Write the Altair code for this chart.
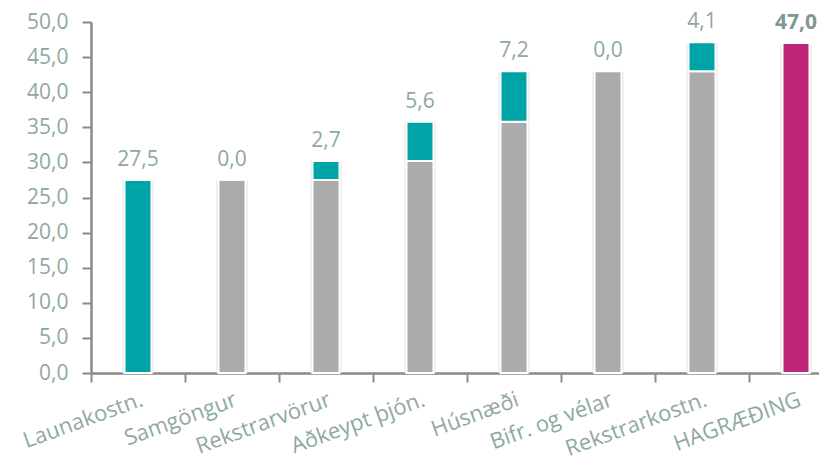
import altair as alt
import pandas as pd

categories = ["Launakostn.", "Samgöngur", "Rekstrarvörur", "Aðkeypt þjón.",
              "Húsnæði", "Bifr. og vélar", "Rekstrarkostn."]
increments = [27.5, 0.0, 2.7, 5.6, 7.2, 0.0, 4.1]
total_label = "HAGRÆÐING"
total_value = 47.0
y_ticks = [0, 5, 10, 15, 20, 25, 30, 35, 40, 45, 50]

order = categories + [total_label]

seg_rows = []
lab_rows = []
start = 0.0
for cat, v in zip(categories, increments):
    end = start + v
    if start > 0:
        seg_rows.append({"cat": cat, "lo": 0.0, "hi": start, "kind": "base"})
    if v > 0:
        seg_rows.append({"cat": cat, "lo": start, "hi": end, "kind": "inc"})
    lab_rows.append({"cat": cat, "top": end, "txt": f"{v:.1f}".replace(".", ","), "bold": False})
    start = end
seg_rows.append({"cat": total_label, "lo": 0.0, "hi": total_value, "kind": "total"})
lab_rows.append({"cat": total_label, "top": total_value,
                 "txt": f"{total_value:.1f}".replace(".", ","), "bold": True})

segs = pd.DataFrame(seg_rows)
labs = pd.DataFrame(lab_rows)

FONT = "Open Sans"
TXT = "#8ea8a4"

x = alt.X("cat:N", sort=order, title=None,
          scale=alt.Scale(range=[0, 752], paddingInner=0, paddingOuter=0),
          axis=alt.Axis(labelAngle=340, labelAlign="right", labelBaseline="top",
                        labelFont=FONT, labelFontSize=22, labelColor=TXT,
                        labelPadding=7, tickSize=9, tickBand="extent",
                        tickColor="#8a8a8a", tickWidth=2,
                        domainColor="#8a8a8a", domainWidth=2.5,
                        labelOverlap=False, labelLimit=300))

yaxis = alt.Axis(values=y_ticks, grid=False, labelOverlap=False,
                 labelExpr="replace(format(datum.value, '.1f'), '.', ',')",
                 labelFont=FONT, labelFontSize=21, labelColor=TXT,
                 labelPadding=14, tickSize=9, tickColor="#8a8a8a",
                 tickWidth=2, domainColor="#8a8a8a", domainWidth=2.5)
yscale = alt.Scale(domain=[0, 50], nice=False)

shadow = alt.Chart(labs).mark_bar(size=31, color="#e4e4e4").encode(
    x=x,
    y=alt.Y("top:Q", scale=yscale, title=None, axis=yaxis),
)

bars = alt.Chart(segs).mark_bar(size=27, stroke="white", strokeWidth=2).encode(
    x=x,
    y=alt.Y("lo:Q", scale=yscale, title=None, axis=yaxis),
    y2="hi:Q",
    color=alt.Color("kind:N", legend=None,
                    scale=alt.Scale(domain=["base", "inc", "total"],
                                    range=["#ababad", "#00a4a6", "#be2678"])),
)

text_norm = alt.Chart(labs).transform_filter("!datum.bold").mark_text(
    font=FONT, fontSize=21, color=TXT, baseline="alphabetic", dy=-14
).encode(x=x, y=alt.Y("top:Q", scale=yscale, title=None, axis=yaxis), text="txt:N")

text_bold = alt.Chart(labs).transform_filter("datum.bold").mark_text(
    font=FONT, fontSize=21, fontWeight="bold", color="#7f9693",
    baseline="alphabetic", dy=-14
).encode(x=x, y=alt.Y("top:Q", scale=yscale, title=None, axis=yaxis), text="txt:N")

chart = alt.layer(shadow, bars, text_norm, text_bold).properties(
    width=728, height=351,
    autosize=alt.AutoSizeParams(type="none"),
    padding={"left": 83, "top": 14, "right": 0, "bottom": 84},
).configure_view(stroke=None).configure_axisY(labelOverlap=False)

chart.save("out.html", embed_options={"renderer": "svg", "actions": False})
